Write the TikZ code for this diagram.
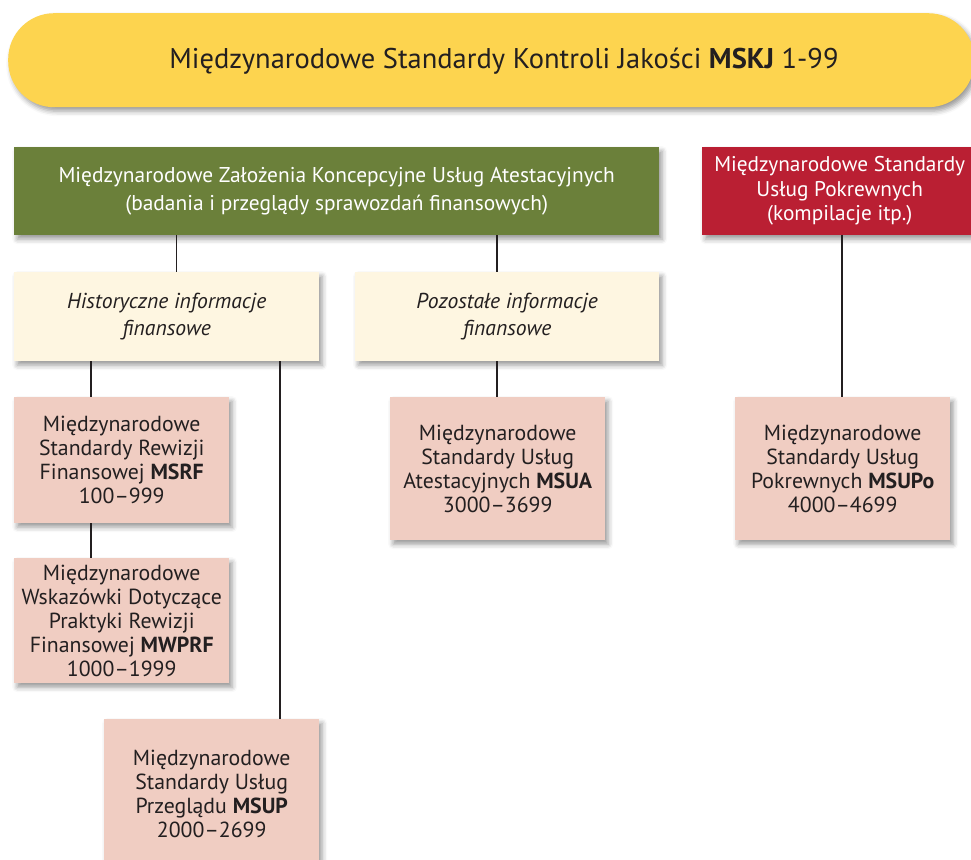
\documentclass[tikz,border=0pt]{standalone}
\usepackage{fontspec}
\setmainfont{PT Sans}
\usetikzlibrary{shadows.blur}
\definecolor{ink}{HTML}{231F20}
\definecolor{sunny}{HTML}{FDD44F}
\definecolor{olive}{HTML}{6B803A}
\definecolor{crimson}{HTML}{BA1F33}
\definecolor{cream}{HTML}{FEF6E1}
\definecolor{blush}{HTML}{F0CDC2}
\tikzset{
  shade/.style={blur shadow={shadow xshift=3pt, shadow yshift=-4pt, shadow blur radius=5pt, shadow opacity=40}},
  card/.style={shade, anchor=north west, inner sep=1pt, align=center, text=ink, font=\fontsize{21.8}{24}\selectfont},
  headbox/.style={card, fill=olive, text=white, font=\fontsize{21.4}{28}\selectfont},
  sidebox/.style={card, fill=crimson, text=white, font=\fontsize{21.3}{24.5}\selectfont},
  infobox/.style={card, fill=cream, font=\itshape\fontsize{21.6}{27}\selectfont},
  stdbox/.style={card, fill=blush},
  link/.style={draw=ink, line width=2pt},
  thinlink/.style={draw=ink, line width=1pt},
}
\begin{document}
\begin{tikzpicture}[x=1pt, y=-1pt]
\useasboundingbox (0,0) rectangle (971,859);

% title banner
\node[shade, fill=sunny, rounded corners=46pt, anchor=north west,
      minimum width=966pt, minimum height=94pt] (banner) at (8,13) {};
\node[text=ink, font=\fontsize{28.5}{32}\selectfont] (title) at (504,61)
  {Międzynarodowe Standardy Kontroli Jakości \textbf{MSKJ} 1-99};

% framework and related services
\node[headbox, minimum width=645pt, minimum height=88pt] (frame) at (14,147)
  {Międzynarodowe Założenia Koncepcyjne Usług Atestacyjnych\\(badania i przeglądy sprawozdań finansowych)};
\node[sidebox, minimum width=275pt, minimum height=88pt] (related) at (702,147)
  {Międzynarodowe Standardy\\Usług Pokrewnych\\(kompilacje itp.)};

% kinds of information
\node[infobox, minimum width=305pt, minimum height=89pt] (hist) at (14,272)
  {Historyczne informacje\\finansowe};
\node[infobox, minimum width=304pt, minimum height=89pt] (other) at (355,272)
  {Pozostałe informacje\\finansowe};

% standards
\node[stdbox, minimum width=215pt, minimum height=126pt] (msrf) at (14,397)
  {Międzynarodowe\\Standardy Rewizji\\Finansowej \textbf{MSRF}\\100–999};
\node[stdbox, minimum width=215pt, minimum height=125pt] (mwprf) at (14,558)
  {Międzynarodowe\\Wskazówki Dotyczące\\Praktyki Rewizji\\Finansowej \textbf{MWPRF}\\1000–1999};
\node[stdbox, minimum width=215pt, minimum height=150pt] (msup) at (104,719)
  {Międzynarodowe\\Standardy Usług\\Przeglądu \textbf{MSUP}\\2000–2699};
\node[stdbox, minimum width=215pt, minimum height=143pt] (msua) at (390,397)
  {Międzynarodowe\\Standardy Usług\\Atestacyjnych \textbf{MSUA}\\3000–3699};
\node[stdbox, minimum width=215pt, minimum height=143pt] (msupo) at (735,397)
  {Międzynarodowe\\Standardy Usług\\Pokrewnych \textbf{MSUPo}\\4000–4699};

% connectors
\draw[thinlink] (frame.south west -| 176,0) -- (hist.north west -| 176,0);
\draw[link] (frame.south west -| 497,0) -- (other.north west -| 497,0);
\draw[link] (hist.south west -| 91,0) -- (msrf.north west -| 91,0);
\draw[link] (msrf.south west -| 91,0) -- (mwprf.north west -| 91,0);
\draw[link] (hist.south west -| 280,0) -- (msup.north west -| 280,0);
\draw[link] (other.south west -| 497,0) -- (msua.north west -| 497,0);
\draw[link] (related.south west -| 842,0) -- (msupo.north west -| 842,0);
\end{tikzpicture}
\end{document}
